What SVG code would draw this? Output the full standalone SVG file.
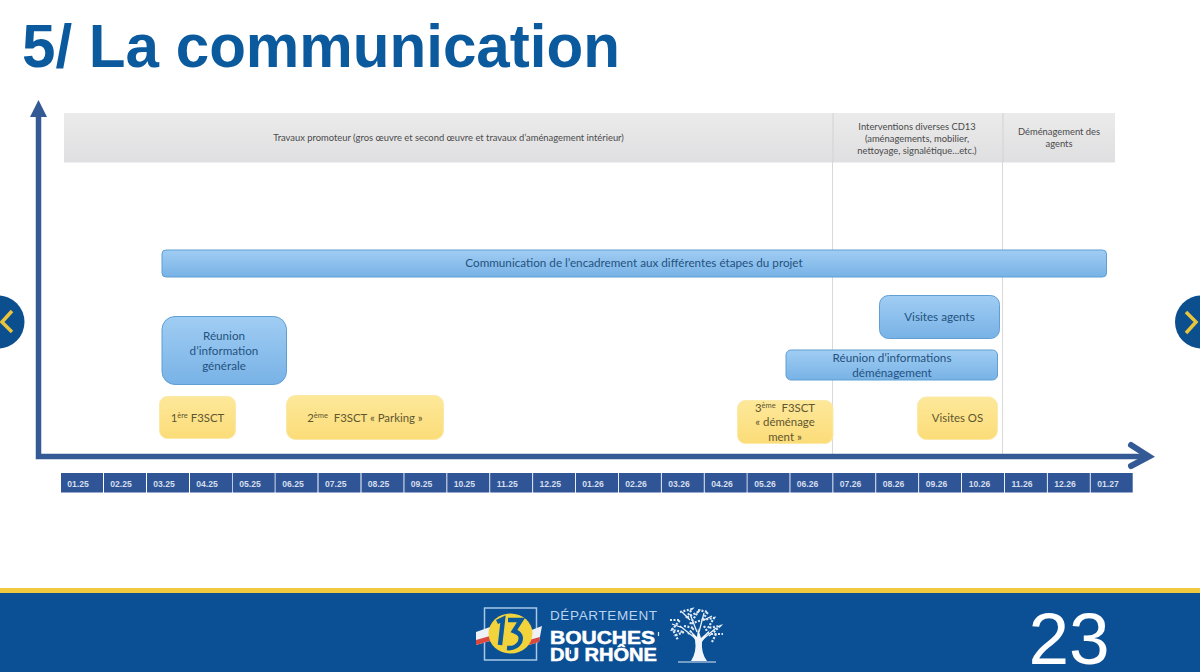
<svg xmlns="http://www.w3.org/2000/svg" width="1200" height="672" viewBox="0 0 1200 672">
<style>
text{font-family:"Lato","Liberation Sans",sans-serif;text-anchor:middle}
.t{font-size:9.400px;fill:#4a4a4a}
.b{font-size:11.700px;fill:#24527f}
.y{font-size:11.400px;fill:#5f5630}
.m{font-family:"Liberation Sans",sans-serif;font-size:8.600px;font-weight:bold;fill:#d5deec}
.blue{fill:url(#gb);stroke:#5f9fd3;stroke-width:1}
.yel{fill:url(#gy);stroke:#fbe9a8;stroke-width:1}
.grey{fill:url(#gg)}
.cell{fill:#2f5597}
.ax{stroke:#335a94;fill:none}
.s{font-size:7.500px}
.logo{font-family:"Liberation Sans",sans-serif;text-anchor:start;font-weight:bold;fill:#fff;stroke:#fff;stroke-width:.5px;font-size:17.500px}
.leaf{fill:none;stroke:#dfeaf5;stroke-width:2.200;stroke-dasharray:2 1.500}
.br{fill:none;stroke:#eef4fa;stroke-width:1.200}
</style>
<defs>
<linearGradient id="gb" x1="0" y1="0" x2="0" y2="1"><stop offset="0" stop-color="#a0cdf3"/><stop offset="1" stop-color="#78b2e6"/></linearGradient>
<linearGradient id="gy" x1="0" y1="0" x2="0" y2="1"><stop offset="0" stop-color="#fde89a"/><stop offset="1" stop-color="#fbdc78"/></linearGradient>
<linearGradient id="gg" x1="0" y1="0" x2="0" y2="1"><stop offset="0" stop-color="#ebebeb"/><stop offset="1" stop-color="#dfdfe1"/></linearGradient>
</defs>
<rect width="1200" height="672" fill="#fff"/>
<text id="title" x="22" y="67" textLength="598" lengthAdjust="spacingAndGlyphs" style="font-family:'Liberation Sans',sans-serif;font-weight:bold;font-size:60.500px;text-anchor:start" fill="#0b5a9e">5/ La communication</text>

<g id="headers">
<rect class="grey" x="64" y="113" width="769" height="49.500"/>
<rect class="grey" x="833" y="113" width="170" height="49.500"/>
<rect class="grey" x="1003" y="113" width="112" height="49.500"/>
<path d="M833 113V162M1003 113V162" stroke="#d2d2d4" stroke-width="1"/>
<text class="t" x="448.500" y="141">Travaux promoteur (gros œuvre et second œuvre et travaux d’aménagement intérieur)</text>
<text class="t" x="917" y="129.500">Interventions diverses CD13</text>
<text class="t" x="917" y="141.500">(aménagements, mobilier,</text>
<text class="t" x="917" y="153.500">nettoyage, signalétique…etc.)</text>
<text class="t" x="1059" y="135">Déménagement des</text>
<text class="t" x="1059" y="147">agents</text>
</g>

<g id="connectors">
<path d="M832.500 162V456M1002.500 162V456" stroke="#d9d9d9" stroke-width="1" fill="none"/>
<path class="ax" d="M38.500 112V456.500H1148" stroke-width="5.500"/>
<path d="M38.500 100L47 117H30Z" fill="#335a94"/>
<path class="ax" d="M1131 445L1149 456.500L1131 466" stroke-width="6" stroke-linecap="round"/>
</g>

<g id="n-comm"><rect class="blue" x="162" y="250" width="944.500" height="27" rx="4"/><text class="b" x="634" y="267">Communication de l’encadrement aux différentes étapes du projet</text></g>
<g id="n-reunion"><rect class="blue" x="162" y="316.500" width="124.500" height="68" rx="13"/><text class="b" x="224" y="340">Réunion</text><text class="b" x="224" y="355">d’information</text><text class="b" x="224" y="370">générale</text></g>
<g id="n-visites-agents"><rect class="blue" x="879.500" y="295.500" width="120" height="43" rx="9"/><text class="b" x="939.500" y="321">Visites agents</text></g>
<g id="n-reunion-dem"><rect class="blue" x="786" y="350" width="211.500" height="30" rx="5"/><text class="b" x="892" y="362">Réunion d’informations</text><text class="b" x="892" y="377">déménagement</text></g>
<g id="n-f1"><rect class="yel" x="159.500" y="396.500" width="76" height="42" rx="8"/><text class="y" x="197.500" y="422">1<tspan class="s" dy="-4">ère</tspan><tspan dy="4"> F3SCT</tspan></text></g>
<g id="n-f2"><rect class="yel" x="286.500" y="395.500" width="157" height="44" rx="9"/><text class="y" x="365" y="422" xml:space="preserve">2<tspan class="s" dy="-4">ème</tspan><tspan dy="4">  F3SCT « Parking »</tspan></text></g>
<g id="n-f3"><rect class="yel" x="737.500" y="400.500" width="95.500" height="43" rx="8"/><text class="y" x="785" y="412" xml:space="preserve">3<tspan class="s" dy="-4">ème</tspan><tspan dy="4">  F3SCT</tspan></text><text class="y" x="785" y="426">« déménage</text><text class="y" x="785" y="441">ment »</text></g>
<g id="n-os"><rect class="yel" x="917.500" y="397" width="80" height="42.500" rx="9"/><text class="y" x="957.500" y="422">Visites OS</text></g>

<g id="months">
<rect class="cell" x="61" y="473" width="42" height="19.500"/><text class="m" x="78" y="486.500">01.25</text>
<rect class="cell" x="104" y="473" width="42" height="19.500"/><text class="m" x="121" y="486.500">02.25</text>
<rect class="cell" x="147" y="473" width="42" height="19.500"/><text class="m" x="164" y="486.500">03.25</text>
<rect class="cell" x="190" y="473" width="42" height="19.500"/><text class="m" x="207" y="486.500">04.25</text>
<rect class="cell" x="232.700" y="473" width="42" height="19.500"/><text class="m" x="250" y="486.500">05.25</text>
<rect class="cell" x="275.500" y="473" width="42" height="19.500"/><text class="m" x="293" y="486.500">06.25</text>
<rect class="cell" x="318.500" y="473" width="42" height="19.500"/><text class="m" x="335.700" y="486.500">07.25</text>
<rect class="cell" x="361.500" y="473" width="42" height="19.500"/><text class="m" x="378.600" y="486.500">08.25</text>
<rect class="cell" x="404.400" y="473" width="42" height="19.500"/><text class="m" x="421.500" y="486.500">09.25</text>
<rect class="cell" x="447.300" y="473" width="42" height="19.500"/><text class="m" x="464.400" y="486.500">10.25</text>
<rect class="cell" x="490.200" y="473" width="42" height="19.500"/><text class="m" x="507.300" y="486.500">11.25</text>
<rect class="cell" x="533.100" y="473" width="42" height="19.500"/><text class="m" x="550.200" y="486.500">12.25</text>
<rect class="cell" x="576" y="473" width="42" height="19.500"/><text class="m" x="593" y="486.500">01.26</text>
<rect class="cell" x="618.900" y="473" width="42" height="19.500"/><text class="m" x="636" y="486.500">02.26</text>
<rect class="cell" x="661.800" y="473" width="42" height="19.500"/><text class="m" x="679" y="486.500">03.26</text>
<rect class="cell" x="704.700" y="473" width="42" height="19.500"/><text class="m" x="722" y="486.500">04.26</text>
<rect class="cell" x="747.500" y="473" width="42" height="19.500"/><text class="m" x="765" y="486.500">05.26</text>
<rect class="cell" x="790.400" y="473" width="42" height="19.500"/><text class="m" x="807.500" y="486.500">06.26</text>
<rect class="cell" x="833.300" y="473" width="42" height="19.500"/><text class="m" x="850.500" y="486.500">07.26</text>
<rect class="cell" x="876.200" y="473" width="42" height="19.500"/><text class="m" x="893.500" y="486.500">08.26</text>
<rect class="cell" x="919.100" y="473" width="42" height="19.500"/><text class="m" x="936.500" y="486.500">09.26</text>
<rect class="cell" x="962" y="473" width="42" height="19.500"/><text class="m" x="979.500" y="486.500">10.26</text>
<rect class="cell" x="1004.900" y="473" width="42" height="19.500"/><text class="m" x="1022" y="486.500">11.26</text>
<rect class="cell" x="1047.800" y="473" width="42" height="19.500"/><text class="m" x="1065" y="486.500">12.26</text>
<rect class="cell" x="1090.700" y="473" width="42" height="19.500"/><text class="m" x="1108" y="486.500">01.27</text>
</g>

<g id="nav">
<circle cx="-2" cy="322" r="26.500" fill="#0b4f8f"/>
<path d="M12 311L2 322L12 332" fill="none" stroke="#e9c43c" stroke-width="3.500"/>
<circle cx="1201.500" cy="322" r="26.500" fill="#0b4f8f"/>
<path d="M1186 312L1196 322L1186 333" fill="none" stroke="#e9c43c" stroke-width="3.500"/>
</g>

<g id="footer">
<rect x="0" y="588" width="1200" height="84" fill="#0b4f94"/>
<rect x="0" y="588" width="1200" height="5" fill="#f0c93e"/>
<rect x="484.500" y="608" width="52" height="52" fill="none" stroke="#a7c8e8" stroke-width="1.500"/>
<path d="M476 632L490 627V641L476 645Z" fill="#eef2f7"/>
<path d="M476 640L490 636V641L476 645Z" fill="#d9473f"/>
<path d="M542 626L529 631V645L539 642Z" fill="#eef2f7"/>
<path d="M540 637L529 640V645L539 642Z" fill="#d9473f"/>
<ellipse cx="510.500" cy="633.500" rx="22" ry="20" fill="#f2d33b"/>
<path d="M497 622L503 619L500 645" fill="none" stroke="#0b5a9e" stroke-width="4.500"/>
<path d="M508 620H521L514 631Q523 634 520 642Q516 649 507 648" fill="none" stroke="#0b5a9e" stroke-width="4.500"/>
<text x="550" y="620" textLength="107" lengthAdjust="spacing" style="font-family:'Liberation Sans',sans-serif;font-size:13.500px;text-anchor:start" fill="#b9d4ee">DÉPARTEMENT</text>
<text class="logo" x="550" y="644" textLength="105" lengthAdjust="spacingAndGlyphs">BOUCHES</text>
<text class="logo" x="550" y="661" textLength="107" lengthAdjust="spacingAndGlyphs">DU RHÔNE</text>
<path d="M658.500 632V636M570.500 650V654" stroke="#dfeaf5" stroke-width="1.200"/>
<g id="tree">
<path d="M691 661Q697 652 695 640L690 630L697 637L698 628L701 638L710 630L702 642Q701 653 707 661Z" fill="#f2f6fb"/>
<path class="br" d="M695 638L680 626M697 632L690 614M699 632L704 613M702 640L716 628M683 628L672 624M690 620L682 612M704 620L712 616"/>
<path class="leaf" d="M670 620L680 620L672 630L684 632L674 636M680 612L692 609L686 618L698 612L690 624L702 620"/>
<path class="leaf" d="M698 610L708 612L702 620L714 618L708 628L720 626L712 634L723 634"/>
<path class="leaf" d="M672 628L678 640M716 634L712 642M684 626L694 628L688 634M704 626L710 636"/>
<path d="M678 662H716" stroke="#dfeaf5" stroke-width="1"/>
</g>
<text x="1069" y="664" style="font-family:'Liberation Sans',sans-serif;font-size:73px" fill="#fff">23</text>
</g>
</svg>
